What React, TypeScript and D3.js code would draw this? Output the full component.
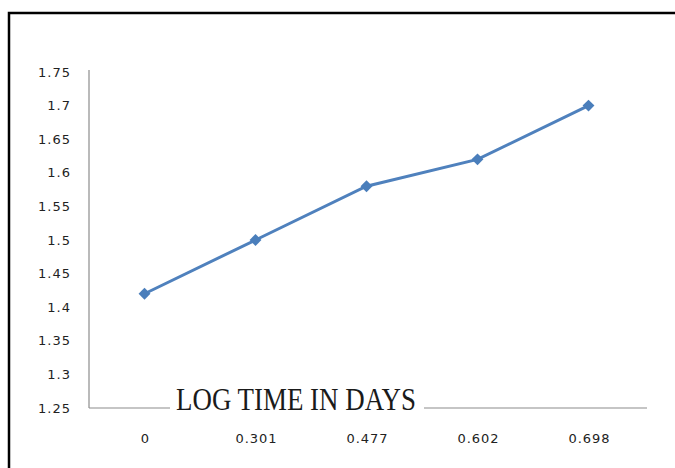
import { FC, useRef, useEffect } from 'react'
import * as d3 from 'd3'

const categories = ['0', '0.301', '0.477', '0.602', '0.698']
const values = [1.42, 1.5, 1.58, 1.62, 1.7]
const yTicks = [1.25, 1.3, 1.35, 1.4, 1.45, 1.5, 1.55, 1.6, 1.65, 1.7, 1.75]
const axisTitle = 'LOG TIME IN DAYS'

const App: FC = () => {
  const svgRef = useRef<SVGSVGElement>(null)

  useEffect(() => {
    if (!svgRef.current) return
    const svg = d3.select(svgRef.current)
    svg.selectAll('*').remove()

    const width = 675
    const height = 468
    const margin = { top: 72, right: 31, bottom: 60, left: 89 }

    svg.attr('width', width).attr('height', height)

    svg.append('rect')
      .attr('width', width).attr('height', height)
      .attr('fill', '#fff')

    // outer frame, runs off the right and bottom edges
    svg.append('rect')
      .attr('x', 9).attr('y', 13)
      .attr('width', 700).attr('height', 500)
      .attr('fill', 'none')
      .attr('stroke', '#000')
      .attr('stroke-width', 2.5)

    const x = d3.scaleBand()
      .domain(categories)
      .range([margin.left, margin.left + 555])

    const y = d3.scaleLinear()
      .domain([1.25, 1.75])
      .range([height - margin.bottom, margin.top])

    const g = svg.append('g')

    // axes lines
    g.append('line')
      .attr('x1', margin.left).attr('x2', margin.left)
      .attr('y1', y(1.75) - 2).attr('y2', y(1.25))
      .attr('stroke', '#8c8c8c').attr('stroke-width', 1.2)
    g.append('line')
      .attr('x1', margin.left).attr('x2', width - margin.right + 3)
      .attr('y1', y(1.25)).attr('y2', y(1.25))
      .attr('stroke', '#8c8c8c').attr('stroke-width', 1.2)

    g.selectAll('.ytick')
      .data(yTicks)
      .join('text')
      .attr('class', 'ytick')
      .attr('x', 71)
      .attr('y', d => y(d))
      .attr('dy', '0.35em')
      .attr('text-anchor', 'end')
      .attr('fill', '#222')
      .attr('font-family', 'DejaVu Sans, sans-serif')
      .attr('font-size', '13px')
      .attr('letter-spacing', '1px')
      .text(d => String(d))

    g.selectAll('.xtick')
      .data(categories)
      .join('text')
      .attr('class', 'xtick')
      .attr('x', d => (x(d) || 0) + x.bandwidth() / 2 + 1)
      .attr('y', 438)
      .attr('dy', '0.35em')
      .attr('text-anchor', 'middle')
      .attr('fill', '#222')
      .attr('font-family', 'DejaVu Sans, sans-serif')
      .attr('font-size', '13px')
      .attr('letter-spacing', '1px')
      .text(d => d)

    // title sits over the x axis line with a white patch behind it
    g.append('rect')
      .attr('x', 170).attr('y', 385)
      .attr('width', 254).attr('height', 30)
      .attr('fill', '#fff')
    g.append('text')
      .attr('x', 176)
      .attr('y', 410)
      .attr('textLength', 240)
      .attr('lengthAdjust', 'spacingAndGlyphs')
      .attr('fill', '#1a1a1a')
      .attr('font-family', 'Liberation Serif, serif')
      .attr('font-size', '32px')
      .text(axisTitle)

    const line = d3.line<number>()
      .x((_, i) => (x(categories[i]) || 0) + x.bandwidth() / 2)
      .y(d => y(d))

    g.append('path')
      .datum(values)
      .attr('d', line)
      .attr('fill', 'none')
      .attr('stroke', '#4f81bd')
      .attr('stroke-width', 3)

    const diamond = d3.symbol().type(d3.symbolDiamond2).size(90)
    g.selectAll('.pt')
      .data(values)
      .join('path')
      .attr('class', 'pt')
      .attr('d', diamond)
      .attr('transform', (d, i) => `translate(${(x(categories[i]) || 0) + x.bandwidth() / 2},${y(d)})`)
      .attr('fill', '#4a7ebb')
  }, [])

  return (
    <div style={{ position: 'absolute', left: 0, top: 0 }}>
      <svg ref={svgRef} style={{ display: 'block' }} />
    </div>
  )
}

export default App
